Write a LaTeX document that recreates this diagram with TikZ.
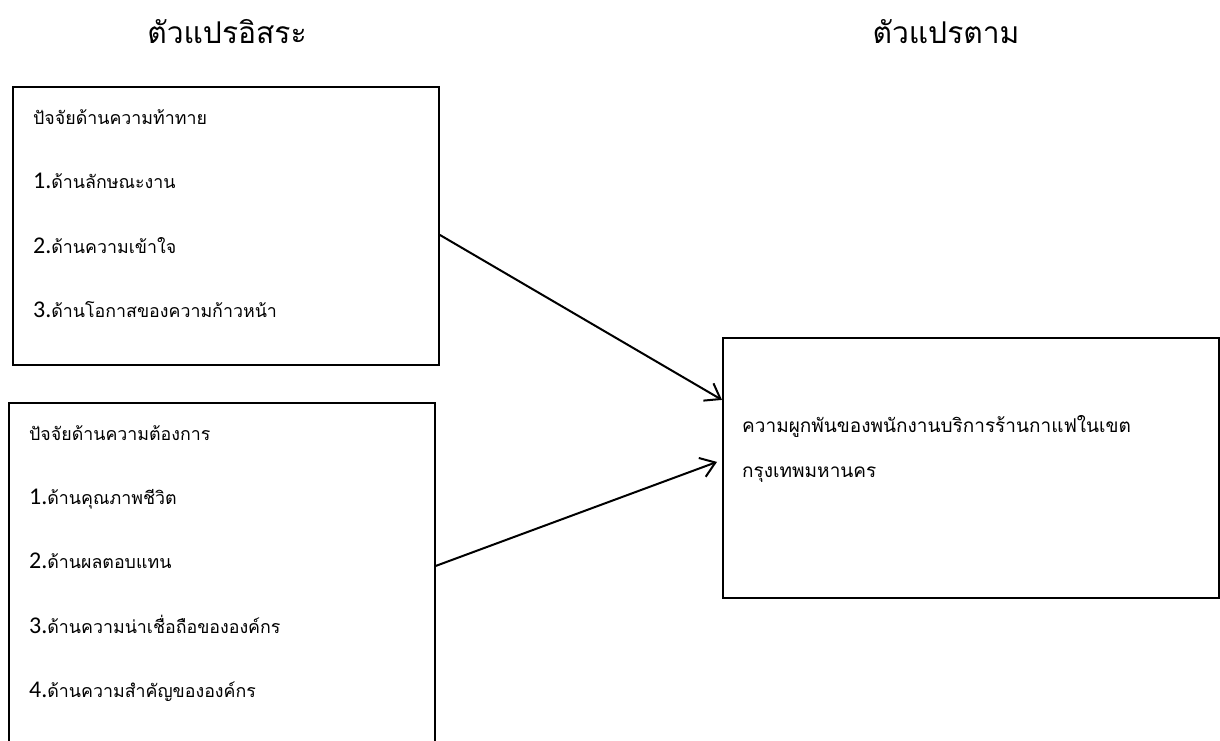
\documentclass[tikz,border=0pt]{standalone}
\usepackage{fontspec}
\setmainfont{Loma}[Script=Thai]
\newfontfamily\numfont{Carlito}
\usetikzlibrary{arrows.meta}
\tikzset{
  box/.style={draw=black, line width=1.8pt, rectangle, inner sep=0pt, anchor=north west},
  title/.style={anchor=base, inner sep=0pt, font=\fontsize{30}{32}\selectfont},
  item/.style={anchor=base west, inner sep=0pt, font=\fontsize{17.8}{20}\selectfont},
  wide/.style={anchor=base west, inner sep=0pt, font=\fontsize{19}{21}\selectfont},
  link/.style={line width=2pt, -{Straight Barb[length=14pt,width=20pt,line width=2pt]}}
}
\newcommand{\nm}[1]{{\numfont\fontsize{24}{26}\selectfont #1}}
\begin{document}
\begin{tikzpicture}[x=1pt,y=-1pt]
\clip (0,0) rectangle (1220,740);
\fill[white] (0,0) rectangle (1220,740);
% titles
\node[title] (t1) at (227,43) {ตัวแปรอิสระ};
\node[title] (t2) at (946,43) {ตัวแปรตาม};
% boxes
\node[box, minimum width=426pt, minimum height=278pt] (b1) at (12,86) {};
\node[box, minimum width=426pt, minimum height=350pt] (b2) at (8,402) {};
\node[box, minimum width=496pt, minimum height=260pt] (b3) at (722,337) {};
% box 1 text
\node[item] (b1l0) at (33,124) {ปัจจัยด้านความท้าทาย};
\node[item] (b1l1) at (33,188) {\nm{1.}ด้านลักษณะงาน};
\node[item] (b1l2) at (33,253) {\nm{2.}ด้านความเข้าใจ};
\node[item] (b1l3) at (33,317) {\nm{3.}ด้านโอกาสของความก้าวหน้า};
% box 2 text
\node[item] (b2l0) at (29,440) {ปัจจัยด้านความต้องการ};
\node[item] (b2l1) at (29,504) {\nm{1.}ด้านคุณภาพชีวิต};
\node[item] (b2l2) at (29,568) {\nm{2.}ด้านผลตอบแทน};
\node[item] (b2l3) at (29,633) {\nm{3.}ด้านความน่าเชื่อถือขององค์กร};
\node[item] (b2l4) at (29,697) {\nm{4.}ด้านความสำคัญขององค์กร};
% box 3 text
\node[wide] (b3l0) at (742,432) {ความผูกพันของพนักงานบริการร้านกาแฟในเขต};
\node[wide] (b3l1) at (742,477) {กรุงเทพมหานคร};
% connectors
\draw[link] ([yshift=-9pt]b1.east) -- ([yshift=68pt]b3.west);
\draw[link] ([yshift=12pt]b2.east) -- ([xshift=-5pt,yshift=6pt]b3.west);
\end{tikzpicture}
\end{document}
